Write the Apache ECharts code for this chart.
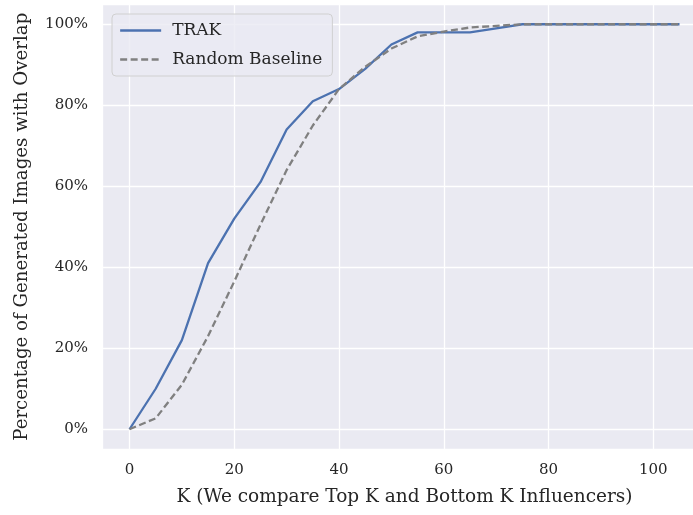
<!DOCTYPE html>
<html>
<head>
<meta charset="utf-8">
<script src="https://cdn.jsdelivr.net/npm/echarts@6/dist/echarts.min.js"></script>
<style>
  html, body { margin: 0; padding: 0; background: #fff; }
  #chart { width: 693px; height: 515px; }
</style>
</head>
<body>
<div id="chart"></div>
<script>
// K values (x axis)
const kValues = [0, 5, 10, 15, 20, 25, 30, 35, 40, 45, 50, 55, 60, 65, 70, 75, 80, 85, 90, 95, 100, 105];
// percentage of generated images with overlap
const trak = [0, 10, 22, 41, 52, 61, 74, 81, 84, 89, 95, 98, 98, 98, 99, 100, 100, 100, 100, 100, 100, 100];
const randomBaseline = [0, 2.7, 11, 23, 36.5, 50.5, 64, 75, 84, 89.5, 94, 97, 98.2, 99.2, 99.6, 100, 100, 100, 100, 100, 100, 100];

const font = 'DejaVu Serif';
const textColor = '#262626';

const toPairs = vals => kValues.map((k, i) => [k, vals[i]]);

const chart = echarts.init(document.getElementById('chart'));
chart.setOption({
    backgroundColor: '#ffffff',
    animation: false,
    textStyle: { fontFamily: font },
    grid: {
        left: 102,
        top: 4,
        width: 605,
        height: 445.5,
        outerBoundsMode: 'none',
        containLabel: false,
        show: true,
        backgroundColor: '#EAEAF2',
        borderWidth: 0
    },
    legend: {
        orient: 'vertical',
        left: 112,
        top: 14,
        padding: [8, 10, 8, 7],
        itemWidth: 41,
        itemHeight: 14,
        itemGap: 12,
        backgroundColor: 'rgba(234,234,242,0.8)',
        borderColor: '#d0d0d0',
        borderWidth: 1,
        borderRadius: 4,
        itemStyle: { opacity: 0 },
        lineStyle: { width: 2.3 },
        textStyle: { fontFamily: font, fontSize: 17, color: textColor, padding: [0, 0, 0, 6] },
        data: ['TRAK', 'Random Baseline']
    },
    xAxis: {
        type: 'value',
        min: -5.25,
        max: 110.25,
        name: 'K (We compare Top K and Bottom K Influencers)',
        nameLocation: 'middle',
        nameGap: 38,
        nameTextStyle: { fontFamily: font, fontSize: 18.5, color: textColor },
        axisLine: { show: false },
        axisTick: { show: false },
        axisLabel: {
            fontFamily: font, fontSize: 15, color: textColor, margin: 13,
            showMinLabel: false, showMaxLabel: false
        },
        splitLine: { show: true, lineStyle: { color: '#ffffff', width: 1.3 } }
    },
    yAxis: {
        type: 'value',
        min: -5,
        max: 105,
        name: 'Percentage of Generated Images with Overlap',
        nameLocation: 'middle',
        nameGap: 71,
        nameTextStyle: { fontFamily: font, fontSize: 18.2, color: textColor },
        axisLine: { show: false },
        axisTick: { show: false },
        axisLabel: {
            fontFamily: font, fontSize: 15, color: textColor, margin: 14,
            showMinLabel: false, showMaxLabel: false,
            formatter: v => v + '%'
        },
        splitLine: { show: true, lineStyle: { color: '#ffffff', width: 1.3 } }
    },
    series: [
        {
            name: 'TRAK',
            type: 'line',
            data: toPairs(trak),
            symbol: 'none',
            lineStyle: { color: '#4C72B0', width: 2.3 },
            itemStyle: { color: '#4C72B0' },
            z: 3
        },
        {
            name: 'Random Baseline',
            type: 'line',
            data: toPairs(randomBaseline),
            symbol: 'none',
            lineStyle: { color: '#808080', width: 2.3, type: [7, 3.5] },
            itemStyle: { color: '#808080' },
            z: 4
        }
    ]
});
</script>
</body>
</html>
